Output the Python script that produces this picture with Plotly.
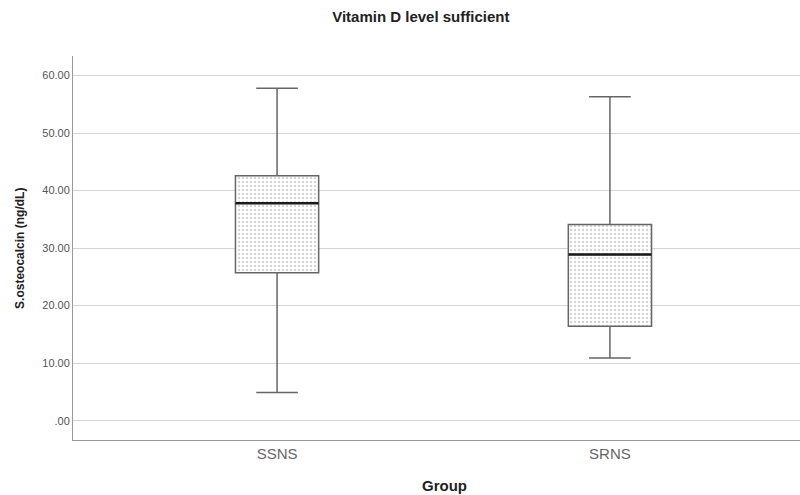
import plotly.graph_objects as go

groups = ["SSNS", "SRNS"]
positions = [0, 1]
q1 = [25.7, 16.4]
median = [37.8, 28.9]
q3 = [42.6, 34.1]
lower = [4.9, 10.9]
upper = [57.8, 56.3]

ytick_vals = [0, 10, 20, 30, 40, 50, 60]
ytick_text = [".00", "10.00", "20.00", "30.00", "40.00", "50.00", "60.00"]

box_w = 0.25
font_family = "Liberation Sans, Arial, sans-serif"

fig = go.Figure()

# dotted fill behind boxes
fig.add_trace(go.Bar(
    x=positions, y=[b - a for a, b in zip(q1, q3)], base=q1, width=box_w,
    marker=dict(color="white", line=dict(width=0),
                pattern=dict(shape=".", fgcolor="#aaaaaa", bgcolor="white", size=4, solidity=0.3)),
    hoverinfo="skip", showlegend=False,
))

fig.add_trace(go.Box(
    x=positions, q1=q1, median=median, q3=q3, lowerfence=lower, upperfence=upper,
    width=box_w, whiskerwidth=0.5,
    fillcolor="rgba(0,0,0,0)",
    line=dict(color="#666666", width=1.5),
    showlegend=False, boxpoints=False,
))

for p, m in zip(positions, median):
    fig.add_trace(go.Scatter(
        x=[p - box_w / 2, p + box_w / 2], y=[m, m], mode="lines",
        line=dict(color="#1a1a1a", width=2.5), showlegend=False, hoverinfo="skip",
    ))

fig.update_layout(
    width=800, height=495,
    margin=dict(l=73, r=0, t=56, b=55),
    paper_bgcolor="white", plot_bgcolor="white",
    barmode="overlay",
    font=dict(family=font_family, color="#444"),
    title=dict(text="<b>Vitamin D level sufficient</b>", x=0.526, xref="container", xanchor="center",
               y=0.966, yref="container", yanchor="middle",
               font=dict(size=15, color="#222", family=font_family)),
    xaxis=dict(
        range=[-0.613, 1.571], tickvals=positions, ticktext=groups,
        showgrid=False, zeroline=False, showline=True, linecolor="#9a9a9a", linewidth=1,
        ticks="", tickfont=dict(size=15, color="#666"),
    ),
    yaxis=dict(
        range=[-3.36, 63.4], tickvals=ytick_vals, ticktext=ytick_text,
        showgrid=True, gridcolor="#d4d4d4", gridwidth=1, zeroline=False,
        showline=True, linecolor="#9a9a9a", linewidth=1,
        ticks="", tickfont=dict(size=11, color="#555"),
    ),
    annotations=[
        dict(text="<b>S.osteocalcin (ng/dL)</b>", textangle=-90, xref="paper", yref="paper",
             x=-0.073, y=0.5, xanchor="center", yanchor="middle", showarrow=False,
             font=dict(size=12, color="#222", family=font_family)),
        dict(text="<b>Group</b>", xref="paper", yref="paper",
             x=0.511, y=-0.118, xanchor="center", yanchor="middle", showarrow=False,
             font=dict(size=15, color="#222", family=font_family)),
    ],
)

fig.write_html(
    "out.html",
    config={"displayModeBar": False},
    post_script="document.body.style.margin='0';document.body.style.overflow='hidden';",
)
